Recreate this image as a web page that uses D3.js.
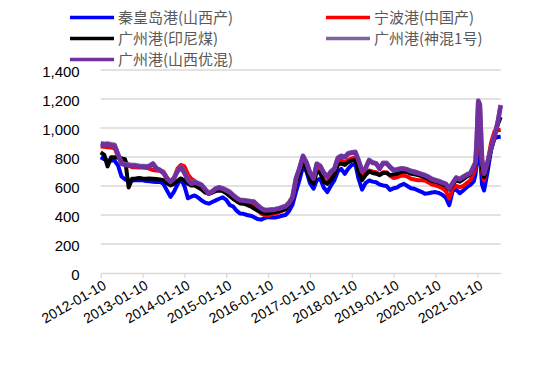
<!DOCTYPE html>
<html>
<head>
<meta charset="utf-8">
<script src="https://cdn.jsdelivr.net/npm/d3@7"></script>
<style>
  body { margin: 0; background: #fff; }
  svg { display: block; }
</style>
</head>
<body>
<div id="chart"></div>
<script>
// weekly coal prices at roughly monthly steps
const dates = [
  "2012-01-10","2012-02-10","2012-03-10","2012-04-10","2012-05-10","2012-06-10","2012-07-10","2012-08-10","2012-09-10","2012-10-10","2012-11-10","2012-12-10",
  "2013-01-10","2013-02-10","2013-03-10","2013-04-10","2013-05-10","2013-06-10","2013-07-10","2013-08-10","2013-09-10","2013-10-10","2013-11-10","2013-12-10",
  "2014-01-10","2014-02-10","2014-03-10","2014-04-10","2014-05-10","2014-06-10","2014-07-10","2014-08-10","2014-09-10","2014-10-10","2014-11-10","2014-12-10",
  "2015-01-10","2015-02-10","2015-03-10","2015-04-10","2015-05-10","2015-06-10","2015-07-10","2015-08-10","2015-09-10","2015-10-10","2015-11-10","2015-12-10",
  "2016-01-10","2016-02-10","2016-03-10","2016-04-10","2016-05-10","2016-06-10","2016-07-10","2016-08-10","2016-09-10","2016-10-10","2016-11-10","2016-12-10",
  "2017-01-10","2017-02-10","2017-03-10","2017-04-10","2017-05-10","2017-06-10","2017-07-10","2017-08-10","2017-09-10","2017-10-10","2017-11-10","2017-12-10",
  "2018-01-10","2018-02-10","2018-03-10","2018-04-10","2018-05-10","2018-06-10","2018-07-10","2018-08-10","2018-09-10","2018-10-10","2018-11-10","2018-12-10",
  "2019-01-10","2019-02-10","2019-03-10","2019-04-10","2019-05-10","2019-06-10","2019-07-10","2019-08-10","2019-09-10","2019-10-10","2019-11-10","2019-12-10",
  "2020-01-10","2020-02-10","2020-03-10","2020-04-10","2020-05-10","2020-06-10","2020-07-10","2020-08-10","2020-09-10","2020-10-10","2020-11-10",
  "2020-12-10","2020-12-25","2021-01-05","2021-01-18","2021-02-01","2021-02-20","2021-03-10","2021-04-10","2021-05-10","2021-06-10","2021-07-10","2021-08-02"
];

const qhdShanxi = [ // 秦皇岛港(山西产)
  798,785,775,778,775,740,665,645,640,638,640,642,
  640,635,632,630,628,630,615,570,525,560,610,650,
  600,515,526,535,520,500,485,478,490,501,512,522,
  505,468,460,430,410,408,400,395,385,372,368,378,
  385,382,382,388,395,400,425,470,560,640,735,700,
  620,581,640,650,590,558,600,638,700,718,684,720,
  745,753,650,575,620,638,630,626,610,604,600,572,
  585,590,605,615,600,585,581,570,560,547,550,555,
  558,552,540,520,468,570,575,550,570,592,608,
  632,680,760,905,820,610,569,700,850,930,938,940
];

const ningbo = [ // 宁波港(中国产)
  873,870,868,865,860,805,790,775,740,730,730,728,
  728,726,720,710,707,705,700,660,618,650,720,745,
  735,680,650,635,615,600,565,545,555,575,580,575,
  560,540,525,505,490,488,485,480,465,440,410,400,
  398,405,410,418,428,440,470,510,620,700,785,730,
  660,626,720,700,640,626,650,690,760,775,765,780,
  790,798,720,655,690,707,700,695,680,695,695,670,
  655,660,670,672,665,650,645,640,640,638,625,610,
  604,595,585,565,515,585,600,592,600,620,640,
  690,730,870,985,880,700,638,765,900,980,985,988
];

const gzIndonesia = [ // 广州港(印尼煤)
  832,815,735,798,798,795,790,785,590,650,652,655,
  652,650,652,650,648,645,640,620,604,615,635,652,
  640,615,604,604,590,575,555,547,555,565,569,565,
  550,530,512,495,480,478,470,460,445,430,420,410,
  410,415,420,425,432,440,470,510,625,690,770,720,
  645,615,700,690,630,615,640,675,745,755,745,765,
  775,780,700,640,675,700,690,685,675,690,690,675,
  680,685,695,700,695,685,680,675,668,660,648,635,
  630,622,612,600,575,610,640,630,648,665,680,
  725,750,880,1140,1080,720,660,750,850,945,1030,1075
];

const gzShenhun = [ // 广州港(神混1号)
  895,892,893,888,884,820,758,750,748,745,744,740,
  738,736,740,756,725,712,695,655,632,655,705,732,
  695,645,620,630,620,608,580,552,565,585,592,585,
  574,560,540,520,506,503,500,496,493,470,448,436,
  436,440,442,446,455,462,485,525,655,725,810,765,
  695,655,755,740,695,665,700,720,795,810,803,826,
  833,836,780,705,725,780,765,758,722,760,760,734,
  712,716,722,722,716,705,700,692,684,676,665,650,
  642,635,626,616,586,624,660,650,666,680,690,
  740,765,925,1190,1165,785,688,770,865,950,1055,1160
];

const gzShanxiYouhun = [ // 广州港(山西优混)
  890,885,888,882,878,815,752,745,742,740,738,735,
  732,730,735,752,720,708,690,650,628,650,700,728,
  690,640,615,626,615,604,575,547,560,580,588,580,
  569,555,535,515,501,498,495,492,489,465,444,432,
  432,435,437,442,450,458,480,520,650,720,805,760,
  690,650,750,735,690,660,695,715,790,805,798,821,
  828,832,775,700,720,775,760,753,718,755,755,729,
  707,712,718,718,712,700,695,688,680,672,660,645,
  638,630,622,612,582,620,655,645,662,675,686,
  735,760,920,1185,1160,780,684,765,860,945,1050,1155
];

const seriesNames = ["秦皇岛港(山西产)", "宁波港(中国产)", "广州港(印尼煤)", "广州港(神混1号)", "广州港(山西优混)"];
const seriesColors = ["#0000ff", "#ff0000", "#000000", "#8064a2", "#7030a0"];
const seriesValues = [qhdShanxi, ningbo, gzIndonesia, gzShenhun, gzShanxiYouhun];

const xTickLabels = ["2012-01-10","2013-01-10","2014-01-10","2015-01-10","2016-01-10",
                     "2017-01-10","2018-01-10","2019-01-10","2020-01-10","2021-01-10"];
const yTicks = [0, 200, 400, 600, 800, 1000, 1200, 1400];

const width = 550;
const height = 366;
const parse = d3.timeParse("%Y-%m-%d");
const dateObjs = dates.map(parse);

const svg = d3.select("#chart")
  .append("svg")
  .attr("width", width)
  .attr("height", height);

const x = d3.scaleTime()
  .domain([parse("2012-01-10"), parse("2021-08-02")])
  .range([100.7, 500.7]);

const y = d3.scaleLinear()
  .domain([0, 1400])
  .range([273, 70]);

// gridlines
svg.append("g")
  .selectAll("line")
  .data(yTicks.slice(1))
  .enter()
  .append("line")
  .attr("x1", x.range()[0])
  .attr("x2", x.range()[1])
  .attr("y1", d => y(d))
  .attr("y2", d => y(d))
  .attr("stroke", "#d9d9d9")
  .attr("stroke-width", 1.3);

// y axis labels
const yAxis = svg.append("g")
  .attr("transform", `translate(${x.range()[0]},0)`)
  .call(d3.axisLeft(y).tickValues(yTicks).tickFormat(d3.format(",")).tickSize(0).tickPadding(21));
yAxis.select(".domain").remove();
yAxis.selectAll("text")
  .attr("font-family", "Liberation Sans, Arial, sans-serif")
  .attr("font-size", 15)
  .attr("fill", "#000")
  .attr("dy", "0.45em");

// x axis
const xAxis = svg.append("g")
  .attr("transform", `translate(0,${y(0)})`)
  .call(d3.axisBottom(x).tickValues(xTickLabels.map(parse)).tickFormat(d3.timeFormat("%Y-%m-%d")).tickSize(5).tickSizeOuter(0));
xAxis.select(".domain").attr("stroke", "#d9d9d9").attr("stroke-width", 1.3);
xAxis.selectAll(".tick line").attr("stroke", "#d9d9d9").attr("stroke-width", 1.3);
xAxis.selectAll("text")
  .attr("font-family", "Liberation Sans, Arial, sans-serif")
  .attr("font-size", 14)
  .attr("fill", "#000")
  .attr("text-anchor", "end")
  .attr("x", 0)
  .attr("y", 0)
  .attr("dy", 0)
  .attr("transform", "translate(6,15) rotate(-30)");

// lines
const line = d3.line()
  .x((d, i) => x(dateObjs[i]))
  .y(d => y(d));

svg.append("g")
  .selectAll("path")
  .data(seriesValues)
  .enter()
  .append("path")
  .attr("d", line)
  .attr("fill", "none")
  .attr("stroke", (d, i) => seriesColors[i])
  .attr("stroke-width", (d, i) => i >= 3 ? 4.5 : 4)
  .attr("stroke-linejoin", "round");

// legend
const legendPos = [[70, 17.5], [326, 17.5], [70, 38.5], [326, 38.5], [70, 59.5]];
const legend = svg.append("g")
  .selectAll("g")
  .data(seriesNames)
  .enter()
  .append("g")
  .attr("transform", (d, i) => `translate(${legendPos[i][0]},${legendPos[i][1]})`);

legend.append("line")
  .attr("x1", 0)
  .attr("x2", 44)
  .attr("stroke", (d, i) => seriesColors[i])
  .attr("stroke-width", 3.5);

legend.append("text")
  .attr("x", 48)
  .attr("dy", "0.35em")
  .attr("font-family", "Noto Sans CJK SC, sans-serif")
  .attr("font-size", 15)
  .attr("fill", "#595959")
  .text(d => d);
</script>
</body>
</html>
